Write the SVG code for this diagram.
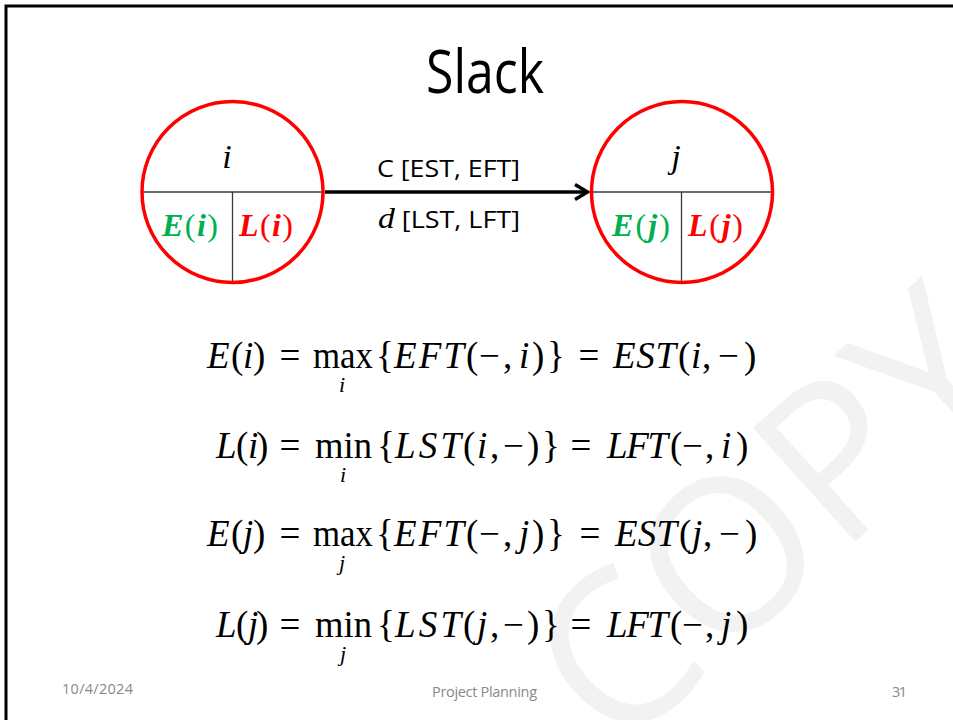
<svg xmlns="http://www.w3.org/2000/svg" width="953" height="720" viewBox="0 0 953 720">
<style>
.wm{font-family:"Open Sans",sans-serif;font-size:214px;fill:#f2f2f2}
.title{font-family:"Open Sans",sans-serif;font-size:60px;fill:#000}
.lbl{font-family:"Open Sans",sans-serif;font-size:24px;fill:#000}
.eq{font-family:"Liberation Serif",serif;font-size:37px;fill:#000}
.sub{font-family:"Liberation Serif",serif;font-size:22px;font-style:italic;fill:#000}
.it{font-style:italic}
.nv{font-family:"Liberation Serif",serif;font-size:34px;font-style:italic;fill:#000}
.cell{font-family:"Liberation Serif",serif;font-size:32px}
.bi{font-weight:bold;font-style:italic}
.green{fill:#00b050}
.red{fill:#ff0000}
.ring{fill:none;stroke:#ff0000;stroke-width:3.5}
.div{stroke:#3a3a3a;stroke-width:1.3}
.foot{font-family:"Open Sans",sans-serif;font-size:14.5px;fill:#898989}
</style>
<defs>
<marker id="chev" markerUnits="userSpaceOnUse" viewBox="0 0 16 18" refX="14.5" refY="9" markerWidth="16" markerHeight="18" orient="auto">
<path d="M1.5,1.5 L14,9 L1.5,16.5" fill="none" stroke="#000" stroke-width="3.5"/>
</marker>
</defs>
<rect width="953" height="720" fill="#fff"/>
<text class="wm" x="616" y="757" transform="rotate(-42 616 757)">COPY</text>
<path d="M6,720 V6 H953" fill="none" stroke="#000" stroke-width="3"/>
<text class="title" x="485" y="93" text-anchor="middle" textLength="118" lengthAdjust="spacingAndGlyphs">Slack</text>

<g id="connectors">
<line x1="325" y1="192" x2="588" y2="192" stroke="#000" stroke-width="3.5" marker-end="url(#chev)"/>
<text class="lbl" x="377" y="177" textLength="143" lengthAdjust="spacingAndGlyphs">C [EST, EFT]</text>
<text class="lbl" x="378" y="228" textLength="142" lengthAdjust="spacingAndGlyphs"><tspan font-family="Liberation Serif,serif" font-style="italic" font-size="30">d</tspan> [LST, LFT]</text>
</g>

<g id="node-i">
<line class="div" x1="142" y1="192" x2="323" y2="192"/>
<line class="div" x1="232.5" y1="192" x2="232.5" y2="282"/>
<circle class="ring" cx="232.5" cy="192" r="90.5"/>
<text class="nv" x="227" y="168" text-anchor="middle">i</text>
<text class="cell green" x="162" y="236" textLength="56"><tspan class="bi">E</tspan>(<tspan class="bi">i</tspan>)</text>
<text class="cell red" x="239" y="236" textLength="54"><tspan class="bi">L</tspan>(<tspan class="bi">i</tspan>)</text>
</g>

<g id="node-j">
<line class="div" x1="592" y1="192" x2="772" y2="192"/>
<line class="div" x1="681.5" y1="192" x2="681.5" y2="282"/>
<circle class="ring" cx="682" cy="192" r="90.5"/>
<text class="nv" x="676" y="168" text-anchor="middle">j</text>
<text class="cell green" x="612" y="236" textLength="58"><tspan class="bi">E</tspan>(<tspan class="bi">j</tspan>)</text>
<text class="cell red" x="688" y="236" textLength="55"><tspan class="bi">L</tspan>(<tspan class="bi">j</tspan>)</text>
</g>

<g id="eq1">
<text class="eq" y="368"><tspan class="it" x="207">E</tspan><tspan x="231">(</tspan><tspan class="it" x="243">i</tspan><tspan x="253">)</tspan></text>
<text class="eq" x="290" y="368" text-anchor="middle">=</text>
<text class="eq" x="313" y="368" textLength="60" lengthAdjust="spacingAndGlyphs">max</text>
<text class="sub" x="342" y="392" text-anchor="middle">i</text>
<text class="eq" x="376" y="368">{</text>
<text class="eq it" x="394" y="368" textLength="70">EFT</text>
<text class="eq" y="368"><tspan x="466">(</tspan><tspan x="479">−</tspan><tspan x="503">,</tspan><tspan class="it" x="519">i</tspan><tspan x="532">)</tspan><tspan x="547">}</tspan></text>
<text class="eq" x="589" y="368" text-anchor="middle">=</text>
<text class="eq it" x="613" y="368" textLength="63">EST</text>
<text class="eq" y="368"><tspan x="678">(</tspan><tspan class="it" x="691">i</tspan><tspan x="702">,</tspan><tspan x="718">−</tspan><tspan x="744">)</tspan></text>
</g>

<g id="eq2">
<text class="eq" y="458"><tspan class="it" x="216">L</tspan><tspan x="236">(</tspan><tspan class="it" x="248">i</tspan><tspan x="256">)</tspan></text>
<text class="eq" x="290" y="458" text-anchor="middle">=</text>
<text class="eq" x="315" y="458" textLength="57" lengthAdjust="spacingAndGlyphs">min</text>
<text class="sub" x="343" y="482" text-anchor="middle">i</text>
<text class="eq" x="377" y="458">{</text>
<text class="eq it" x="395" y="458" textLength="66">LST</text>
<text class="eq" y="458"><tspan x="463">(</tspan><tspan class="it" x="477">i</tspan><tspan x="490">,</tspan><tspan x="503">−</tspan><tspan x="527">)</tspan><tspan x="542">}</tspan></text>
<text class="eq" x="581" y="458" text-anchor="middle">=</text>
<text class="eq it" x="607" y="458" textLength="61">LFT</text>
<text class="eq" y="458"><tspan x="670">(</tspan><tspan x="682">−</tspan><tspan x="705">,</tspan><tspan class="it" x="721">i</tspan><tspan x="736">)</tspan></text>
</g>

<g id="eq3">
<text class="eq" y="546"><tspan class="it" x="207">E</tspan><tspan x="231">(</tspan><tspan class="it" x="243">j</tspan><tspan x="253">)</tspan></text>
<text class="eq" x="290" y="546" text-anchor="middle">=</text>
<text class="eq" x="313" y="546" textLength="60" lengthAdjust="spacingAndGlyphs">max</text>
<text class="sub" x="342" y="570" text-anchor="middle">j</text>
<text class="eq" x="376" y="546">{</text>
<text class="eq it" x="394" y="546" textLength="70">EFT</text>
<text class="eq" y="546"><tspan x="466">(</tspan><tspan x="479">−</tspan><tspan x="503">,</tspan><tspan class="it" x="519">j</tspan><tspan x="532">)</tspan><tspan x="547">}</tspan></text>
<text class="eq" x="590" y="546" text-anchor="middle">=</text>
<text class="eq it" x="615" y="546" textLength="62">EST</text>
<text class="eq" y="546"><tspan x="679">(</tspan><tspan class="it" x="692">j</tspan><tspan x="703">,</tspan><tspan x="719">−</tspan><tspan x="745">)</tspan></text>
</g>

<g id="eq4">
<text class="eq" y="637"><tspan class="it" x="216">L</tspan><tspan x="236">(</tspan><tspan class="it" x="248">j</tspan><tspan x="256">)</tspan></text>
<text class="eq" x="290" y="637" text-anchor="middle">=</text>
<text class="eq" x="315" y="637" textLength="57" lengthAdjust="spacingAndGlyphs">min</text>
<text class="sub" x="343" y="661" text-anchor="middle">j</text>
<text class="eq" x="377" y="637">{</text>
<text class="eq it" x="395" y="637" textLength="66">LST</text>
<text class="eq" y="637"><tspan x="463">(</tspan><tspan class="it" x="477">j</tspan><tspan x="490">,</tspan><tspan x="503">−</tspan><tspan x="527">)</tspan><tspan x="542">}</tspan></text>
<text class="eq" x="581" y="637" text-anchor="middle">=</text>
<text class="eq it" x="607" y="637" textLength="61">LFT</text>
<text class="eq" y="637"><tspan x="670">(</tspan><tspan x="682">−</tspan><tspan x="705">,</tspan><tspan class="it" x="721">j</tspan><tspan x="736">)</tspan></text>
</g>

<text class="foot" x="62" y="694" textLength="71">10/4/2024</text>
<text class="foot" x="432" y="697" textLength="105">Project Planning</text>
<text class="foot" x="892" y="697" textLength="15">31</text>
</svg>
